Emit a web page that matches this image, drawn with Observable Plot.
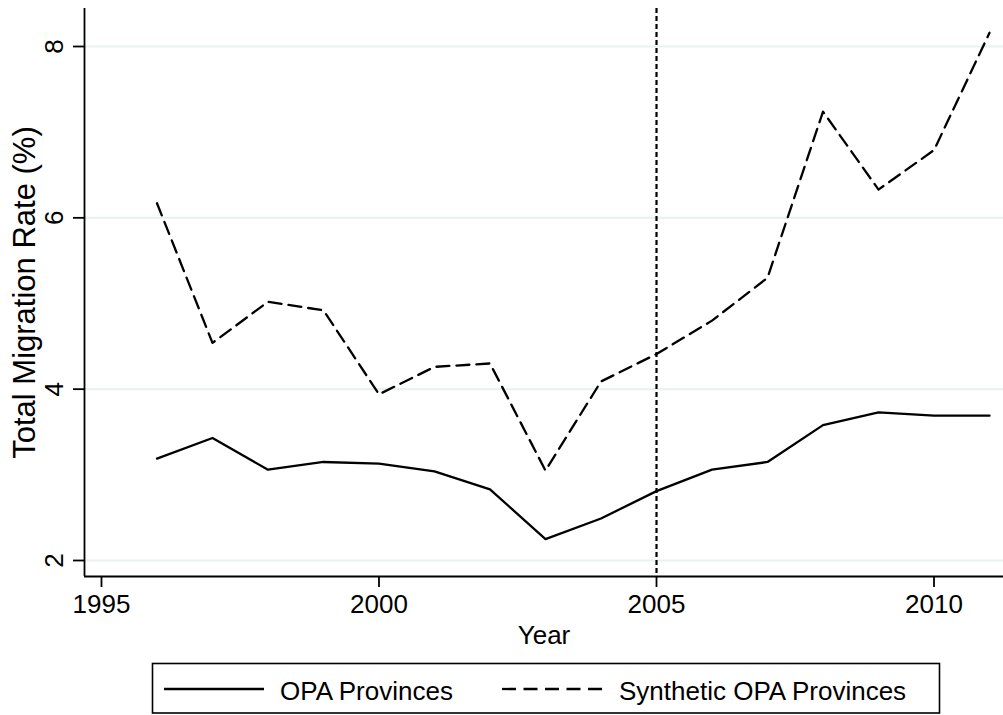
<!DOCTYPE html>
<html>
<head>
<meta charset="utf-8">
<script src="https://cdn.jsdelivr.net/npm/d3@7"></script>
<script src="https://cdn.jsdelivr.net/npm/@observablehq/plot@0.6"></script>
<style>
  html, body { margin: 0; padding: 0; background: #fff; }
  #wrap { position: relative; width: 1003px; height: 715px; font-family: "Liberation Sans", Arial, sans-serif; }
  #wrap svg { display: block; }
</style>
</head>
<body>
<div id="wrap"></div>
<script>
// ---- data ----
const years = [1996, 1997, 1998, 1999, 2000, 2001, 2002, 2003, 2004, 2005, 2006, 2007, 2008, 2009, 2010, 2011];
const opaProvinces = [3.19, 3.43, 3.06, 3.15, 3.13, 3.04, 2.83, 2.25, 2.49, 2.81, 3.06, 3.15, 3.58, 3.73, 3.69, 3.69];
const syntheticOpa = [6.17, 4.54, 5.02, 4.92, 3.94, 4.26, 4.30, 3.05, 4.09, 4.41, 4.80, 5.30, 7.24, 6.33, 6.79, 8.16];
const seriesNames = ["OPA Provinces", "Synthetic OPA Provinces"];
const xTicks = [1995, 2000, 2005, 2010];
const yTicks = [2, 4, 6, 8];
const treatmentYear = [2005];
const xTitle = "Year";
const yTitle = "Total Migration Rate (%)";
const xDomain = [1994.694, 2011.252];
const yDomain = [1.8132, 8.4436];

const opaRows = years.map((year, i) => ({year, value: opaProvinces[i], series: seriesNames[0]}));
const synRows = years.map((year, i) => ({year, value: syntheticOpa[i], series: seriesNames[1]}));

const font = "Liberation Sans, Arial, sans-serif";

const chart = Plot.plot({
  width: 1003,
  height: 650,
  marginTop: 8,
  marginBottom: 74,
  marginLeft: 84,
  marginRight: 0,
  style: {fontFamily: font, background: "#fff", color: "#000"},
  x: {domain: xDomain},
  y: {domain: yDomain},
  marks: [
    Plot.ruleY(yTicks, {stroke: "#e9f1f1", strokeWidth: 2.2}),
    Plot.ruleX(treatmentYear, {stroke: "#000", strokeWidth: 2.2, strokeDasharray: "5,3"}),
    Plot.line(opaRows, {x: "year", y: "value", stroke: "#000", strokeWidth: 2.3}),
    Plot.line(synRows, {x: "year", y: "value", stroke: "#000", strokeWidth: 2.3, strokeDasharray: "13,7"}),
    Plot.ruleX([xDomain[0]], {stroke: "#000", strokeWidth: 1.8}),
    Plot.ruleY([yDomain[0]], {stroke: "#000", strokeWidth: 1.8}),
    Plot.axisX(xTicks, {tickSize: 11, tickPadding: 7.5, fontSize: 26, strokeWidth: 1.8, tickFormat: d => String(d), label: null}),
    Plot.axisY(yTicks, {tickSize: 11, strokeWidth: 1.8, tickFormat: () => "", label: null}),
    Plot.text(yTicks, {y: d => d, text: d => String(d), frameAnchor: "left", dx: -22, rotate: -90, textAnchor: "middle", lineAnchor: "bottom", fontSize: 26, fill: "#000"}),
    Plot.text([xTitle], {text: d => d, frameAnchor: "bottom", dy: 67, lineAnchor: "bottom", fontSize: 26, fill: "#000"}),
    Plot.text([yTitle], {text: d => d, frameAnchor: "left", dx: -50, rotate: -90, textAnchor: "middle", lineAnchor: "bottom", fontSize: 31, fill: "#000"})
  ]
});

const wrap = document.getElementById("wrap");
wrap.appendChild(chart);

// ---- legend (below the plot SVG) ----
const ns = "http://www.w3.org/2000/svg";
const leg = document.createElementNS(ns, "svg");
leg.setAttribute("width", 1003);
leg.setAttribute("height", 65);
leg.style.fontFamily = font;
function el(tag, attrs, text) {
  const e = document.createElementNS(ns, tag);
  for (const k in attrs) e.setAttribute(k, attrs[k]);
  if (text) e.textContent = text;
  leg.appendChild(e);
  return e;
}
el("rect", {x: 152.5, y: 13.5, width: 787, height: 49.5, fill: "#fff", stroke: "#000", "stroke-width": 1.6});
el("line", {x1: 164, x2: 264, y1: 39, y2: 39, stroke: "#000", "stroke-width": 2.3});
el("text", {x: 280, y: 50, "font-size": 26, fill: "#000"}, seriesNames[0]);
el("line", {x1: 502, x2: 602, y1: 39, y2: 39, stroke: "#000", "stroke-width": 2.3, "stroke-dasharray": "14,7.5"});
el("text", {x: 619, y: 50, "font-size": 26, fill: "#000"}, seriesNames[1]);
wrap.appendChild(leg);
</script>
</body>
</html>
